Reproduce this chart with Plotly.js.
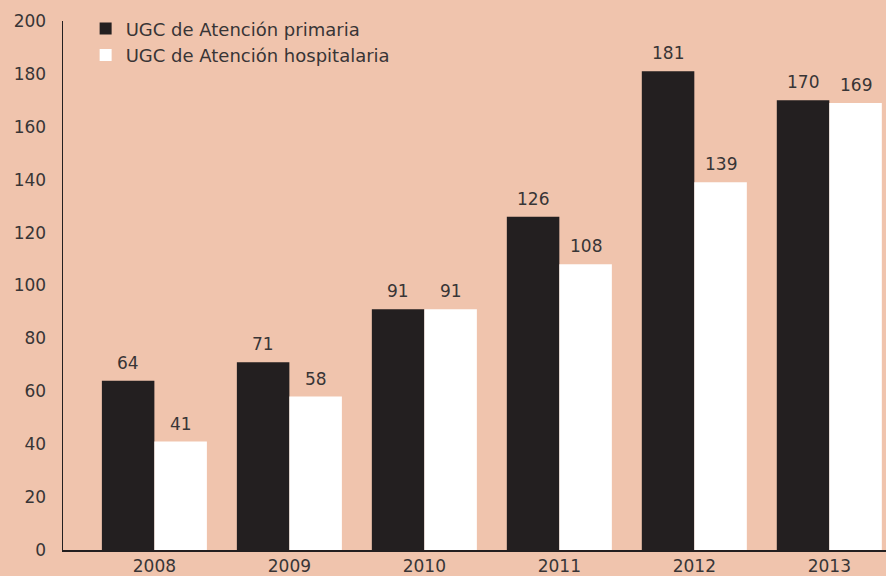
<!DOCTYPE html>
<html>
<head>
<meta charset="utf-8">
<script src="https://cdn.plot.ly/plotly-3.0.1.min.js"></script>
<style>html,body{margin:0;padding:0;background:#F0C4AD;}#chart{width:886px;height:576px;}</style>
</head>
<body>
<div id="chart"></div>
<script>
const years = ["2008", "2009", "2010", "2011", "2012", "2013"];
const primaria = [64, 71, 91, 126, 181, 170];
const hospitalaria = [41, 58, 91, 108, 139, 169];
const seriesNames = ["UGC de Atención primaria", "UGC de Atención hospitalaria"];
const yTicks = [0, 20, 40, 60, 80, 100, 120, 140, 160, 180, 200];

const font = {family: "'DejaVu Sans', sans-serif", size: 17, color: "#383536"};
const legendFont = {family: "'DejaVu Sans', sans-serif", size: 18, color: "#383536"};

const traces = [
  {type: "bar", name: seriesNames[0], x: years, y: primaria,
   marker: {color: "#231F20", line: {width: 0}}},
  {type: "bar", name: seriesNames[1], x: years, y: hospitalaria,
   marker: {color: "#FFFFFF", line: {width: 0}}}
];

const annotations = [];
[primaria, hospitalaria].forEach((vals, si) => {
  vals.forEach((v, i) => {
    annotations.push({x: i, y: v, xref: "x", yref: "y", text: String(v),
      showarrow: false, yanchor: "bottom", xanchor: "center",
      xshift: si === 0 ? -26.25 : 26.25, yshift: 6, font: font});
  });
});

const layout = {
  width: 886, height: 576,
  paper_bgcolor: "#F0C4AD", plot_bgcolor: "#F0C4AD",
  margin: {l: 63, r: 0, t: 21, b: 26},
  barmode: "group", bargap: 0.222, bargroupgap: 0,
  font: font,
  showlegend: true,
  legend: {x: 0.0275, y: 1.02, xanchor: "left", yanchor: "top", bgcolor: "rgba(0,0,0,0)",
           font: legendFont, tracegroupgap: 0},
  xaxis: {type: "category", range: [-0.677, 5.42], showline: true, linecolor: "#231F20", linewidth: 1.5,
          ticks: "", showgrid: false, zeroline: false, tickfont: font, ticklabelstandoff: 0},
  yaxis: {range: [0, 200], tickvals: yTicks, showline: true, linecolor: "#231F20", linewidth: 1.5,
          ticks: "", showgrid: false, zeroline: false, tickfont: font, ticklabelstandoff: 12},
  annotations: annotations
};

Plotly.newPlot("chart", traces, layout, {displayModeBar: false, staticPlot: true});
</script>
</body>
</html>
